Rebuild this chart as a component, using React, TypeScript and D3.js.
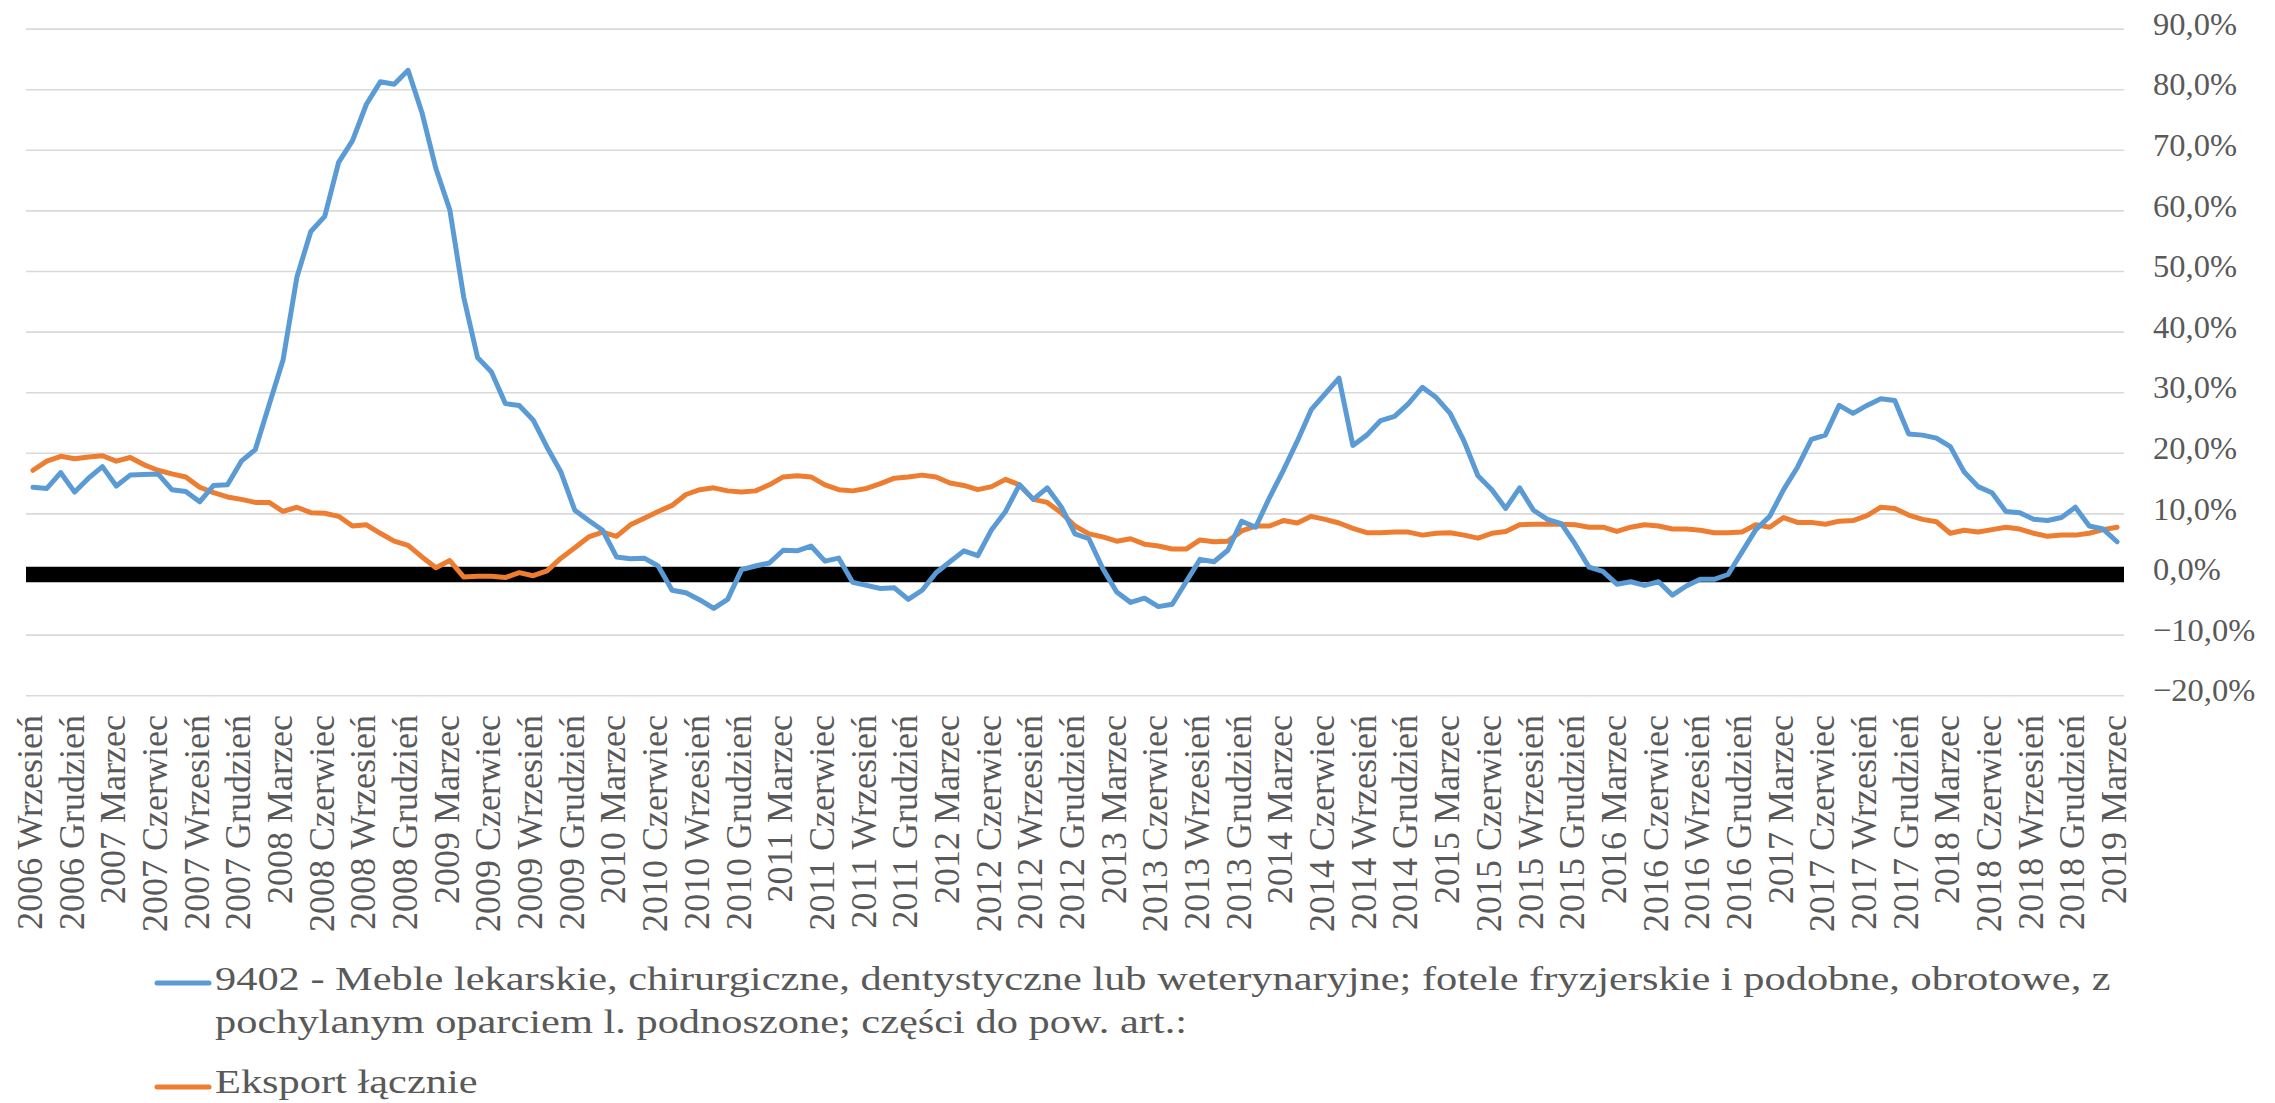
import React from "react";
import * as d3 from "d3";

const MONTHS = ["Styczeń","Luty","Marzec","Kwiecień","Maj","Czerwiec","Lipiec","Sierpień","Wrzesień","Październik","Listopad","Grudzień"];
const START_YEAR = 2006;
const START_MONTH = 8; // Wrzesień (0-based)
const N_POINTS = 151; // 2006 Wrzesień .. 2019 Marzec

const categories: string[] = Array.from({ length: N_POINTS }, (_, i) => {
  const m = START_MONTH + i;
  return `${START_YEAR + Math.floor(m / 12)} ${MONTHS[m % 12]}`;
});

const yTicks = [-20, -10, 0, 10, 20, 30, 40, 50, 60, 70, 80, 90];

const seriesNames = [
  "9402 - Meble lekarskie, chirurgiczne, dentystyczne lub weterynaryjne; fotele fryzjerskie i podobne, obrotowe, z",
  "pochylanym oparciem l. podnoszone; części do pow. art.:",
  "Eksport łącznie",
];

// 9402 - Meble lekarskie... (%)
const meble = [
  14.4, 14.2, 16.8, 13.6, 15.9, 17.8, 14.6, 16.4, 16.5, 16.6,
  14.0, 13.7, 12.0, 14.7, 14.8, 18.7, 20.6, 28.0, 35.4, 49.1,
  56.6, 59.1, 68.0, 71.6, 77.6, 81.3, 80.9, 83.2, 76.2, 67.0,
  60.2, 45.8, 35.8, 33.4, 28.2, 27.9, 25.5, 21.0, 16.9, 10.6,
  8.9, 7.3, 2.9, 2.6, 2.7, 1.4, -2.6, -3.0, -4.2, -5.6,
  -4.1, 0.8, 1.4, 1.9, 4.0, 3.9, 4.7, 2.2, 2.7, -1.3,
  -1.8, -2.3, -2.2, -4.1, -2.6, 0.3, 2.1, 3.9, 3.1, 7.4,
  10.4, 14.8, 12.4, 14.3, 11.2, 6.7, 5.9, 1.0, -2.9, -4.6,
  -3.9, -5.3, -4.9, -1.2, 2.5, 2.1, 4.0, 8.8, 7.8, 12.7,
  17.2, 22.0, 27.2, 29.8, 32.4, 21.3, 23.0, 25.4, 26.1, 28.2,
  30.9, 29.2, 26.6, 22.0, 16.3, 14.0, 10.9, 14.3, 10.6, 9.1,
  8.4, 5.0, 1.2, 0.5, -1.6, -1.2, -1.8, -1.2, -3.4, -1.9,
  -0.8, -0.8, 0.0, 3.7, 7.4, 9.6, 14.0, 17.7, 22.3, 23.0,
  27.9, 26.6, 27.9, 29.0, 28.7, 23.2, 23.0, 22.5, 21.1, 16.9,
  14.5, 13.5, 10.4, 10.2, 9.1, 8.9, 9.4, 11.1, 8.0, 7.5,
  5.4,
];

// Eksport łącznie (%)
const eksport = [
  17.2, 18.7, 19.5, 19.1, 19.4, 19.6, 18.7, 19.3, 18.1, 17.2,
  16.6, 16.1, 14.4, 13.5, 12.8, 12.4, 11.9, 11.9, 10.4, 11.1,
  10.2, 10.1, 9.6, 8.0, 8.2, 6.8, 5.5, 4.8, 2.9, 1.1,
  2.3, -0.4, -0.3, -0.3, -0.5, 0.3, -0.2, 0.6, 2.7, 4.4,
  6.2, 7.0, 6.3, 8.2, 9.3, 10.4, 11.4, 13.2, 14.0, 14.3,
  13.8, 13.6, 13.8, 14.8, 16.1, 16.3, 16.1, 14.8, 14.0, 13.8,
  14.2, 15.0, 15.9, 16.1, 16.4, 16.1, 15.1, 14.7, 14.0, 14.5,
  15.7, 14.8, 12.4, 11.9, 10.2, 8.0, 6.7, 6.2, 5.5, 5.9,
  5.0, 4.7, 4.2, 4.2, 5.7, 5.4, 5.5, 7.2, 8.0, 8.0,
  8.9, 8.5, 9.6, 9.1, 8.5, 7.6, 6.9, 6.9, 7.0, 7.0,
  6.5, 6.8, 6.9, 6.5, 6.0, 6.8, 7.1, 8.2, 8.3, 8.3,
  8.3, 8.2, 7.8, 7.8, 7.1, 7.8, 8.2, 8.0, 7.5, 7.5,
  7.3, 6.9, 6.9, 7.0, 8.2, 7.8, 9.4, 8.6, 8.6, 8.3,
  8.8, 8.9, 9.7, 11.1, 10.9, 9.8, 9.1, 8.7, 6.8, 7.3,
  7.0, 7.4, 7.8, 7.5, 6.8, 6.3, 6.5, 6.5, 6.8, 7.4,
  7.8,
];

const W = 2275;
const H = 1103;
const PLOT_L = 26;
const PLOT_R = 2124;
const TEXT = "#595959";
const BLUE = "#5B9BD5";
const ORANGE = "#ED7D31";
const FONT = "'Liberation Serif', 'Times New Roman', serif";

export default function App() {
  const x = d3.scalePoint<string>().domain(categories).range([PLOT_L, PLOT_R]).padding(0.5);
  const y = d3.scaleLinear().domain([-20, 90]).range([695.7, 29.1]);

  const line = d3
    .line<number>()
    .x((_, i) => x(categories[i]) as number)
    .y((d) => y(d));

  const tickCats = categories.filter((_, i) => i % 3 === 0);

  return (
    <>
      <style>{`body{margin:0;background:#fff}`}</style>
      <svg width={W} height={H} viewBox={`0 0 ${W} ${H}`} style={{ display: "block" }}>
        <rect x={0} y={0} width={W} height={H} fill="#ffffff" />
        {/* gridlines */}
        {yTicks.filter((t) => t !== 0).map((t) => (
          <line key={t} x1={PLOT_L} x2={PLOT_R} y1={y(t)} y2={y(t)} stroke="#d9d9d9" strokeWidth={1.6} />
        ))}
        {/* thick zero line */}
        <line x1={PLOT_L} x2={PLOT_R} y1={y(0)} y2={y(0)} stroke="#000000" strokeWidth={15.6} />
        {/* y axis labels */}
        {yTicks.map((t) => (
          <text
            key={t}
            x={2153}
            y={y(t) + 5.6}
            fontFamily={FONT}
            fontSize={32.5}
            fill={TEXT}
          >
            {d3.format(".1f")(t).replace(".", ",") + "%"}
          </text>
        ))}
        {/* x axis labels */}
        {tickCats.map((c) => (
          <text
            key={c}
            transform={`translate(${(x(c) as number) + 9},715) rotate(-90)`}
            textAnchor="end"
            fontFamily={FONT}
            fontSize={36}
            fill={TEXT}
          >
            {c}
          </text>
        ))}
        {/* series */}
        <path d={line(eksport) || ""} fill="none" stroke={ORANGE} strokeWidth={5} strokeLinejoin="round" strokeLinecap="round" />
        <path d={line(meble) || ""} fill="none" stroke={BLUE} strokeWidth={5} strokeLinejoin="round" strokeLinecap="round" />
        {/* legend */}
        <line x1={157} x2={209} y1={983} y2={983} stroke={BLUE} strokeWidth={5} strokeLinecap="round" />
        <line x1={157} x2={209} y1={1087} y2={1087} stroke={ORANGE} strokeWidth={5} strokeLinecap="round" />
        <g transform="translate(215,990) scale(1.285,1)">
          <text x={0} y={0} fontFamily={FONT} fontSize={33} fill={TEXT}>{seriesNames[0]}</text>
        </g>
        <g transform="translate(215,1033) scale(1.285,1)">
          <text x={0} y={0} fontFamily={FONT} fontSize={33} fill={TEXT}>{seriesNames[1]}</text>
        </g>
        <g transform="translate(215,1093) scale(1.285,1)">
          <text x={0} y={0} fontFamily={FONT} fontSize={33} fill={TEXT}>{seriesNames[2]}</text>
        </g>
      </svg>
    </>
  );
}
